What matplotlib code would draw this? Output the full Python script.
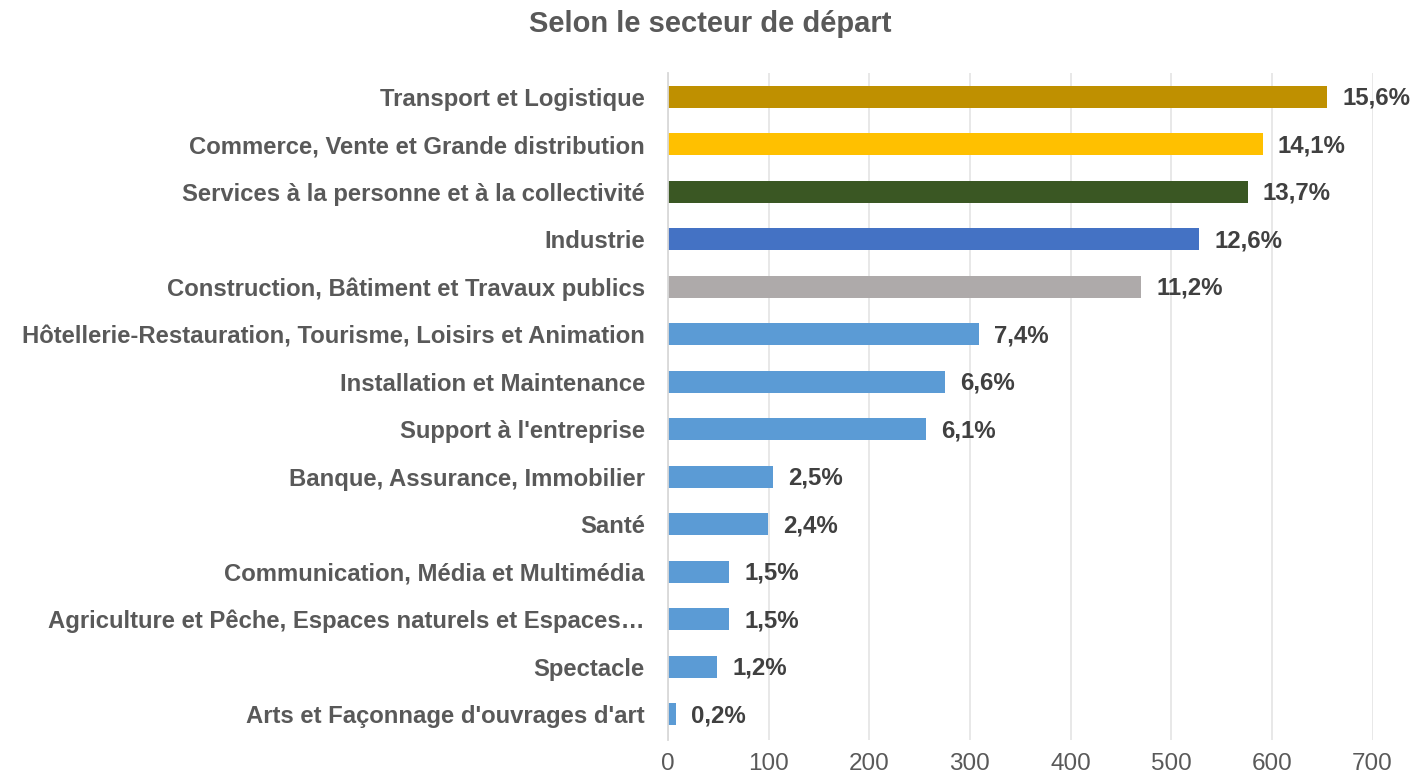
import matplotlib.pyplot as plt

# === DONNÉES ===
secteurs = [
    "Transport et Logistique",
    "Commerce, Vente et Grande distribution",
    "Services à la personne et à la collectivité",
    "Industrie",
    "Construction, Bâtiment et Travaux publics",
    "Hôtellerie-Restauration, Tourisme, Loisirs et Animation",
    "Installation et Maintenance",
    "Support à l'entreprise",
    "Banque, Assurance, Immobilier",
    "Santé",
    "Communication, Média et Multimédia",
    "Agriculture et Pêche, Espaces naturels et Espaces…",
    "Spectacle",
    "Arts et Façonnage d'ouvrages d'art",
]
effectifs = [655, 591, 576, 528, 470, 309, 275, 256, 104, 99, 61, 61, 49, 8]
pourcentages = ["15,6%", "14,1%", "13,7%", "12,6%", "11,2%", "7,4%", "6,6%",
                "6,1%", "2,5%", "2,4%", "1,5%", "1,5%", "1,2%", "0,2%"]
couleurs = ["#BF9000", "#FFC000", "#3A5723", "#4472C4", "#AEAAAA"] + ["#5B9BD5"] * 9

plt.rcParams['font.family'] = ['Liberation Sans', 'DejaVu Sans']

fig = plt.figure(figsize=(14.15, 7.76), dpi=100)
ax = fig.add_axes([0.472, 0.046, 0.498, 0.860])

y = list(range(len(secteurs)))
ax.barh(y, effectifs, height=0.46, color=couleurs, zorder=3)

for yi, v, p in zip(y, effectifs, pourcentages):
    ax.text(v + 15, yi + 0.03, p, va="center", ha="left", fontsize=17.3,
            fontweight="bold", color="#404040")

ax.set_yticks(y)
ax.set_yticklabels(secteurs, fontsize=17.2, fontweight="bold", color="#595959")
ax.set_ylim(13.55, -0.5)
ax.set_xlim(0, 700)
ax.set_xticks(range(0, 701, 100))
ax.tick_params(axis="x", labelsize=17.5, colors="#595959", length=0, pad=9)
ax.tick_params(axis="y", length=0, pad=16.5)
ax.grid(axis="x", color="#E6E6E6", linewidth=1.3, zorder=0)

for s in ["top", "right", "bottom"]:
    ax.spines[s].set_visible(False)
ax.spines["left"].set_color("#D9D9D9")
ax.spines["left"].set_linewidth(1.3)
ax.spines["left"].set_zorder(4)

fig.text(0.502, 0.969, "Selon le secteur de départ", ha="center", va="center",
         fontsize=21, fontweight="bold", color="#595959")

fig.savefig("out.png", dpi=100)
